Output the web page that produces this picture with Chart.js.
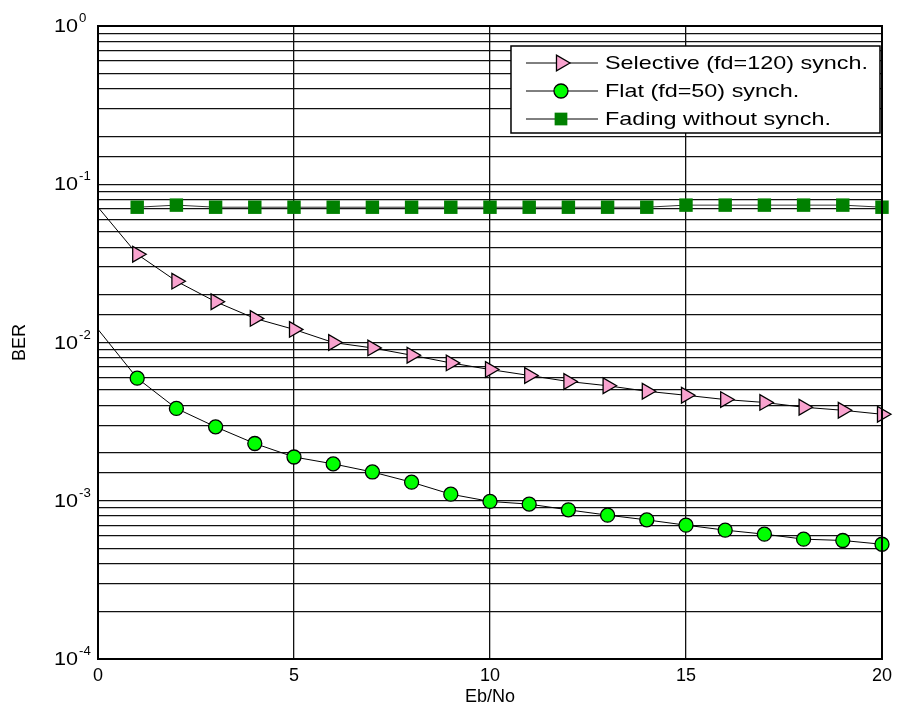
<!DOCTYPE html>
<html lang="en">
<head>
<meta charset="UTF-8">
<title>BER vs Eb/No</title>
<script src="https://cdn.jsdelivr.net/npm/chart.js"></script>
<style>
  html, body { margin: 0; padding: 0; background: #fff; }
</style>
</head>
<body>
<canvas id="berChart" width="898" height="711"></canvas>
<script>
// data
const ebNo = [0, 1, 2, 3, 4, 5, 6, 7, 8, 9, 10, 11, 12, 13, 14, 15, 16, 17, 18, 19, 20];
const selective = [0.0716, 0.0361, 0.0244, 0.0181, 0.0142, 0.0121, 0.0100, 0.00924, 0.00831, 0.00743, 0.00675,
                   0.00619, 0.00567, 0.00533, 0.00492, 0.00464, 0.00436, 0.00418, 0.0039, 0.00373, 0.00352];
const flat = [0.0121, 0.00595, 0.00383, 0.00293, 0.0023, 0.00189, 0.00171, 0.00152, 0.00131, 0.0011, 0.00099,
              0.000952, 0.000876, 0.000811, 0.000757, 0.000701, 0.000652, 0.000615, 0.000572, 0.000561, 0.000531];
const fading = [null, 0.0716, 0.0738, 0.0716, 0.0716, 0.0716, 0.0716, 0.0716, 0.0716, 0.0716, 0.0716,
                0.0716, 0.0716, 0.0716, 0.0716, 0.0738, 0.0738, 0.0738, 0.0738, 0.0738, 0.0716];
const seriesNames = ['Selective (fd=120) synch.', 'Flat (fd=50) synch.', 'Fading without synch.'];
const yExponents = [0, -1, -2, -3, -4];

const FONT = '"Liberation Sans", Arial, sans-serif';

const datasets = [
  {
    label: seriesNames[0],
    data: selective,
    borderColor: '#000', borderWidth: 1,
    pointStyle: 'triangle', rotation: 90,
    pointRadius: ebNo.map((x, i) => i === 0 ? 0 : 9),
    pointBackgroundColor: '#f9a3cf', pointBorderColor: '#000', pointBorderWidth: 1.3
  },
  {
    label: seriesNames[1],
    data: flat,
    borderColor: '#000', borderWidth: 1,
    pointStyle: 'circle',
    pointRadius: ebNo.map((x, i) => i === 0 ? 0 : 7),
    pointBackgroundColor: '#00ff00', pointBorderColor: '#000', pointBorderWidth: 1.3
  },
  {
    label: seriesNames[2],
    data: fading,
    borderColor: '#333', borderWidth: 1,
    pointStyle: 'rect', pointRadius: 9.5,
    pointBackgroundColor: '#008000', pointBorderColor: '#008000', pointBorderWidth: 0
  }
];
datasets.forEach(d => { d.clip = false; d.tension = 0; d.fill = false; });

// text slightly stretched sideways like the original figure
function wideText(ctx, txt, x, y, sx) {
  ctx.save();
  ctx.translate(x, y);
  ctx.scale(sx, 1);
  ctx.fillText(txt, 0, 0);
  ctx.restore();
}

const frame = {
  id: 'frame',
  afterDraw(chart) {
    const { ctx, chartArea: a, scales: { y } } = chart;
    ctx.save();
    ctx.strokeStyle = '#000';
    ctx.lineWidth = 2;
    ctx.strokeRect(a.left, a.top, a.right - a.left, a.bottom - a.top);

    // y tick labels 10^n
    ctx.fillStyle = '#000';
    yExponents.forEach(e => {
      const py = y.getPixelForValue(Math.pow(10, e));
      ctx.textBaseline = 'alphabetic';
      ctx.font = '18px ' + FONT;
      ctx.textAlign = 'right';
      wideText(ctx, '10', a.left - 20, py + 6, 1.2);
      ctx.font = '12px ' + FONT;
      ctx.textAlign = 'left';
      wideText(ctx, String(e), a.left - 19, py - 4, 1.1);
    });

    // legend box
    const lx = a.right - 371, ly = a.top + 20, lw = 369, lh = 87;
    ctx.fillStyle = '#fff';
    ctx.fillRect(lx, ly, lw, lh);
    ctx.strokeStyle = '#000';
    ctx.lineWidth = 1.5;
    ctx.strokeRect(lx, ly, lw, lh);
    chart.data.datasets.forEach((d, i) => {
      const ry = ly + 17 + i * 28;
      ctx.strokeStyle = '#000';
      ctx.lineWidth = 1;
      ctx.beginPath();
      ctx.moveTo(lx + 15, ry);
      ctx.lineTo(lx + 87, ry);
      ctx.stroke();
      ctx.fillStyle = d.pointBackgroundColor;
      ctx.strokeStyle = d.pointBorderColor;
      ctx.lineWidth = d.pointBorderWidth;
      Chart.helpers.drawPoint(ctx, {
        pointStyle: d.pointStyle, rotation: d.rotation || 0,
        radius: d.pointStyle === 'circle' ? 7 : 9, borderWidth: d.pointBorderWidth
      }, lx + 50, ry);
      ctx.fillStyle = '#000';
      ctx.font = '19px ' + FONT;
      ctx.textAlign = 'left';
      ctx.textBaseline = 'middle';
      wideText(ctx, d.label, lx + 94, ry + 1, 1.23);
    });
    ctx.restore();
  }
};

new Chart(document.getElementById('berChart'), {
  type: 'line',
  data: { labels: ebNo, datasets: datasets },
  options: {
    responsive: false,
    animation: false,
    devicePixelRatio: 1,
    layout: { padding: { top: 26, right: 9, left: 0, bottom: 0 } },
    plugins: { legend: { display: false }, tooltip: { enabled: false } },
    scales: {
      x: {
        type: 'linear', min: 0, max: 20,
        afterFit: s => { s.height = 52; },
        ticks: { stepSize: 5, color: '#000', padding: 6, font: { family: FONT, size: 18 } },
        grid: { color: '#111', lineWidth: 1.3, drawTicks: false },
        border: { display: false },
        title: { display: true, text: 'Eb/No', color: '#000', font: { family: FONT, size: 18 }, padding: { top: 0, bottom: 3 } }
      },
      y: {
        type: 'logarithmic', min: 1e-4, max: 1,
        afterFit: s => { s.width = 98; },
        ticks: { autoSkip: false, callback: () => '' },
        grid: { color: '#111', lineWidth: 1.3, drawTicks: false },
        border: { display: false },
        title: { display: true, text: 'BER', color: '#000', font: { family: FONT, size: 18 }, padding: { top: 9, bottom: 0 } }
      }
    }
  },
  plugins: [frame]
});
</script>
</body>
</html>
